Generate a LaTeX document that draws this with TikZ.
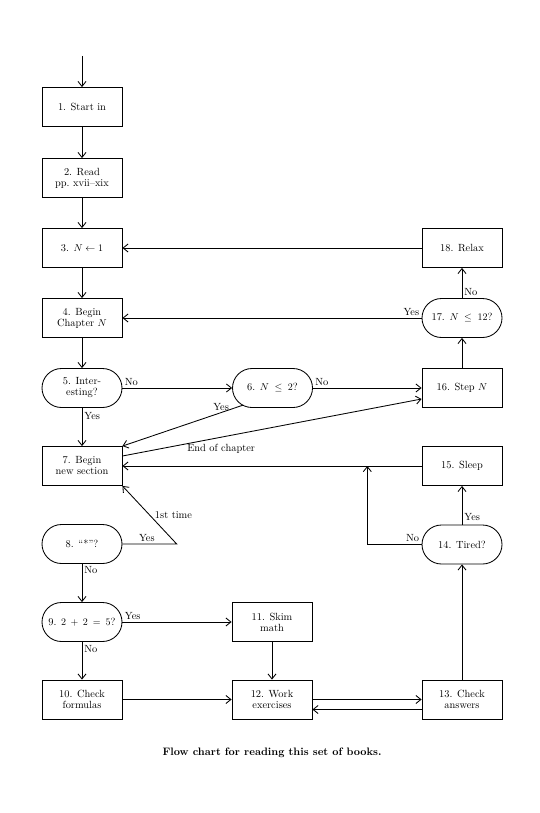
\documentclass[tikz,border=0pt]{standalone}
\usetikzlibrary{arrows.meta,calc}
\begin{document}
\begin{tikzpicture}[x=1pt,y=-1pt,
  line width=0.85pt,
  every node/.style={font=\fontsize{10.4}{11}\selectfont},
  box/.style={draw, minimum width=80pt, minimum height=39pt, align=center, inner sep=2pt},
  oval/.style={box, rounded corners=19.5pt},
  arr/.style={-{Straight Barb[length=5pt,width=8pt]}},
  lab/.style={inner sep=2pt}]
\useasboundingbox (0,0) rectangle (540,813);
\node[box] (n1) at (82,107) {1. Start in};
\node[box] (n2) at (82,178) {2. Read\\pp.\ xvii--xix};
\node[box] (n3) at (82,248) {3. $N\leftarrow 1$};
\node[box] (n4) at (82,318) {4. Begin\\Chapter $N$};
\node[oval] (n5) at (82,388) {5. Inter-\\esting?};
\node[oval] (n6) at (272.5,388) {6. $N\;\le\; 2$?};
\node[box] (n7) at (82,466) {7. Begin\\new section};
\node[oval] (n8) at (82,544) {8. ``*''?};
\node[oval] (n9) at (82,622) {9. $2\:+\:2\:=\:5$?};
\node[box] (n10) at (82,699.5) {10. Check\\formulas};
\node[box] (n11) at (272,622) {11. Skim\\math};
\node[box] (n12) at (272,699.5) {12. Work\\exercises};
\node[box] (n13) at (462,699.5) {13. Check\\answers};
\node[oval] (n14) at (462,544.5) {14. Tired?};
\node[box] (n15) at (462,466) {15. Sleep};
\node[box] (n16) at (462,388) {16. Step $N$};
\node[oval] (n17) at (462,318) {17. $N\;\le\; 12$?};
\node[box] (n18) at (462,248) {18. Relax};
\coordinate (start) at (82,56);
\coordinate (c8) at (176.7,544);
\coordinate (j) at (367.3,466);
\coordinate (c14) at (367.3,544.5);

\draw[arr] (start) -- (n1);
\draw[arr] (n1) -- (n2);
\draw[arr] (n2) -- (n3);
\draw[arr] (n3) -- (n4);
\draw[arr] (n4) -- (n5);
\draw[arr] (n5) -- node[lab,above right,pos=0]{No} (n6);
\draw[arr] (n5) -- node[lab,right,pos=0.2]{Yes} (n7);
\draw[arr] (n6) -- node[lab,above right,pos=0]{No} (n16);
\draw[arr] ([shift={(10.7,-2.7)}]n6.south west) -- node[lab,above,pos=0.18]{Yes} (n7.north east);
\draw[arr] ([shift={(0,-10)}]n7.east) -- node[lab,below=5pt,pos=0.33]{End of chapter} ([shift={(0,11)}]n16.west);
\draw[arr] (n15.west) -- (n7.east);
\draw[arr] (n14.west) -- node[lab,above left,pos=0]{No} (c14) -- (j);
\draw[arr] (n14) -- node[lab,right,pos=0.2]{Yes} (n15);
\draw[arr] (n13) -- (n14);
\draw[arr] (n16) -- (n17);
\draw[arr] (n17) -- node[lab,right,pos=0.2]{No} (n18);
\draw[arr] (n17.west) -- node[lab,above left,pos=0]{Yes} (n4.east);
\draw[arr] (n18) -- (n3);
\draw[arr] (n8.east) -- node[lab,above,pos=0.45]{Yes} (c8) -- node[lab,right=3pt,pos=0.5]{1st time} (n7.south east);
\draw[arr] (n8) -- node[lab,right,pos=0.17]{No} (n9);
\draw[arr] (n9) -- node[lab,right,pos=0.2]{No} (n10);
\draw[arr] (n9) -- node[lab,above right,pos=0]{Yes} (n11);
\draw[arr] (n11) -- (n12);
\draw[arr] (n10) -- (n12);
\draw[arr] (n12) -- (n13);
\draw[arr] ([shift={(0,10)}]n13.west) -- ([shift={(0,10)}]n12.east);
\node[font=\bfseries\fontsize{10.8}{12}\selectfont] (cap) at (272,752.7) {Flow chart for reading this set of books.};
\end{tikzpicture}
\end{document}
